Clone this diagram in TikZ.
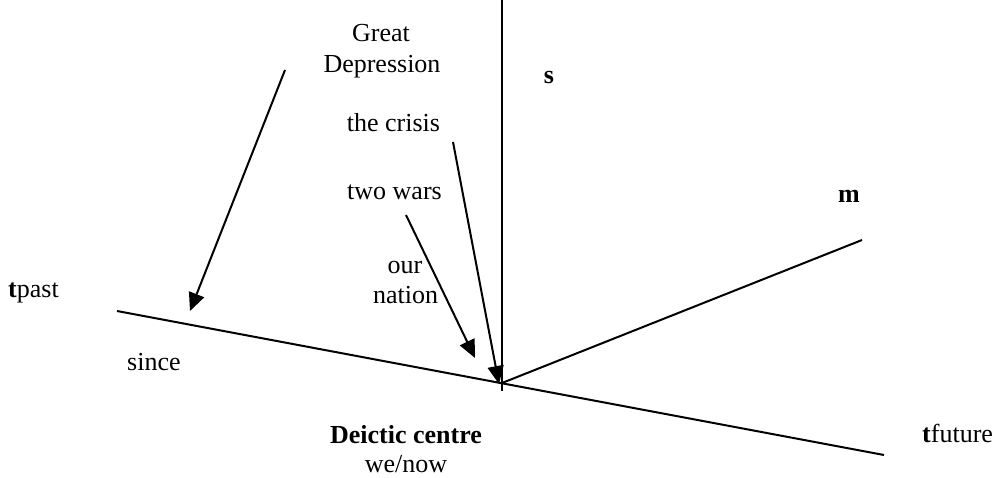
\documentclass[tikz,border=0pt]{standalone}
\usepackage{fontspec}
\setmainfont{Liberation Serif}
\usetikzlibrary{arrows.meta}
\begin{document}
\begin{tikzpicture}[x=1pt,y=-1pt,
  axis/.style={line width=2pt},
  pointer/.style={line width=2pt,-{Triangle[length=18pt,width=16pt]}},
  lbl/.style={inner sep=0pt,anchor=base,font=\fontsize{26}{31}\selectfont}]
\useasboundingbox (0,0) rectangle (1003,478);
% coordinates
\coordinate (stop) at (502,0);
\coordinate (sbot) at (502,391);
\coordinate (dc) at (502,383);
\coordinate (tl) at (117,311);
\coordinate (tr) at (884,455);
\coordinate (mend) at (862,240);
\coordinate (gdA) at (285,70);
\coordinate (gdB) at (190,311);
\coordinate (crA) at (453,142);
\coordinate (crB) at (499,384);
\coordinate (twA) at (406,215);
\coordinate (twB) at (475,358);
% axes
\draw[axis] (stop) -- (sbot);
\draw[axis] (tl) -- (tr);
\draw[axis] (dc) -- (mend);
% pointers
\draw[pointer] (gdA) -- (gdB);
\draw[pointer] (crA) -- (crB);
\draw[pointer] (twA) -- (twB);
% labels
\node[lbl] (gd1) at (381,42) {Great};
\node[lbl] (gd2) at (382,73) {Depression};
\node[lbl] (s) at (549,84) {\textbf{s}};
\node[lbl] (cr) at (393.5,132) {the crisis};
\node[lbl] (tw) at (394.5,200) {two wars};
\node[lbl] (m) at (849,203) {\textbf{m}};
\node[lbl] (on1) at (405,273) {our};
\node[lbl] (on2) at (405.5,303) {nation};
\node[lbl,anchor=base west] (tp) at (8,297) {\textbf{t}past};
\node[lbl,anchor=base west] (si) at (127,370) {since};
\node[lbl] (dcl) at (406,443) {\textbf{Deictic centre}};
\node[lbl] (wn) at (406,472) {we/now};
\node[lbl,anchor=base west] (tf) at (922,442) {\textbf{t}future};
\end{tikzpicture}
\end{document}
